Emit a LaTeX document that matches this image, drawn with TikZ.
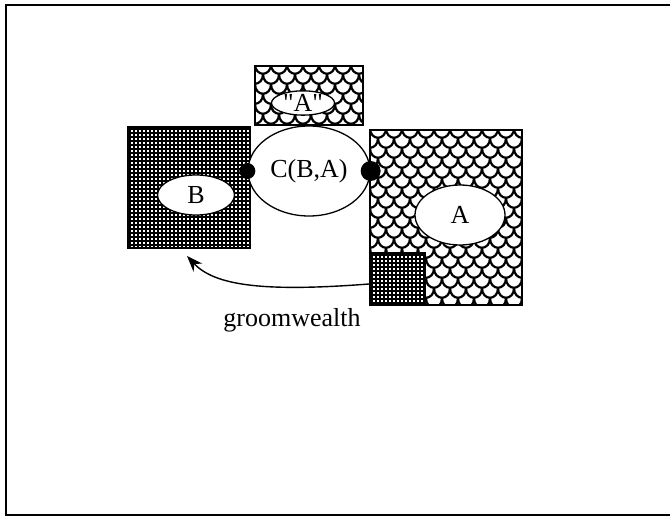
\documentclass[tikz,border=0pt]{standalone}
\usepackage{fontspec}
\setmainfont{Liberation Serif}[Ligatures=TeXOff]
\usetikzlibrary{shapes.geometric,arrows.meta}
\tikzset{
  sqbox/.style={draw, line width=1.8pt, rectangle, inner sep=0pt},
  ovl/.style={draw, line width=1.3pt, ellipse, fill=white, inner sep=0pt,
              font=\fontsize{26}{30}\selectfont},
  scaleline/.style={line width=2.2pt},
  gridline/.style={line width=1.4pt},
  dot/.style={circle, fill=black, inner sep=0pt},
  lbl/.style={font=\fontsize{26}{30}\selectfont, inner sep=0pt}
}
\newcommand\myscales[4]{%
  \begin{scope}
    \clip (#1,#2) rectangle (#3,#4);
    \foreach \r in {0,...,20} {
      \pgfmathsetmacro\yy{#2-2+\r*10}
      \pgfmathsetmacro\off{mod(\r,2)*8}
      \foreach \c in {-1,...,11} {
        \draw[scaleline] ({#1+\off+\c*16},\yy) .. controls +(0,13) and +(0,13) .. ++(16,0);
      }
    }
  \end{scope}}
\newcommand\mygrid[4]{%
  \begin{scope}
    \clip (#1,#2) rectangle (#3,#4);
    \foreach \k in {0,...,40} {
      \draw[gridline] ({#1+2+\k*4},#2) -- ({#1+2+\k*4},#4);
      \draw[gridline] (#1,{#2+2+\k*4}) -- (#3,{#2+2+\k*4});
    }
  \end{scope}}
\begin{document}
\begin{tikzpicture}[x=1pt,y=-1pt]
\useasboundingbox (0,0) rectangle (670,519);
% frame
\draw[line width=2pt] (675,5) -- (6,5) -- (6,515) -- (675,515);
% patterns
\myscales{255}{66}{363}{125}
\myscales{370}{130}{522}{305}
\fill[white] (370,253) rectangle (425,305);
\mygrid{128}{127}{250}{248}
\mygrid{370}{253}{425}{305}
% boxes
\node[sqbox, minimum width=122pt, minimum height=121pt] (Bsq) at (189,187.5) {};
\node[sqbox, minimum width=108pt, minimum height=59pt] (Aq) at (309,95.5) {};
\node[sqbox, minimum width=152pt, minimum height=175pt] (Asq) at (446,217.5) {};
\node[sqbox, minimum width=55pt, minimum height=52pt] (small) at (397.5,279) {};
% ellipses
\node[ovl, minimum width=122pt, minimum height=90pt] (C) at (309,171) {C(B,A)};
\node[ovl, minimum width=77pt, minimum height=40pt] (B) at (196,195) {B};
\node[ovl, minimum width=63pt, minimum height=23pt] (Aqe) at (303,103) {"A"};
\node[ovl, minimum width=90pt, minimum height=60pt] (A) at (460,215) {A};
% dots
\node[dot, minimum size=16pt] (d1) at (C.west) {};
\node[dot, minimum size=20pt] (d2) at (C.east) {};
% arrow
\coordinate (tip) at (187,256);
\draw[line width=1.4pt, -{Stealth[length=16pt,width=12pt]}]
  ([yshift=-5pt]small.west) .. controls (265,292) and (215,286) .. (tip);
\node[lbl] (gw) at (292,320) {groomwealth};
\end{tikzpicture}
\end{document}
